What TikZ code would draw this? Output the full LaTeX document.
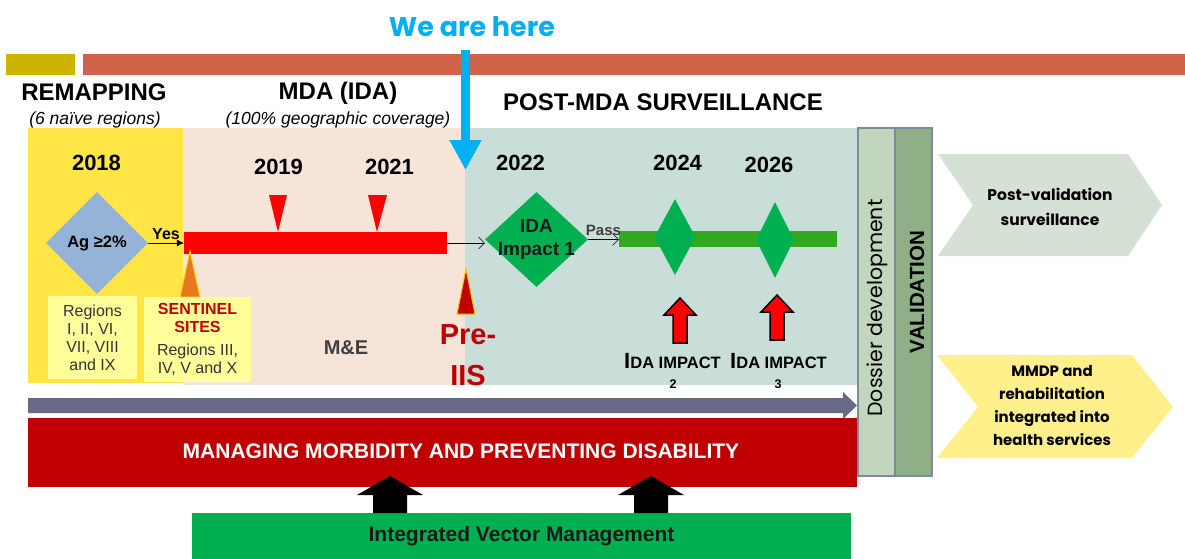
\documentclass[tikz,border=0pt]{standalone}
\usepackage{fontspec}
\setmainfont{Liberation Sans}
\newfontfamily\gothic{Poppins}
\usepackage{tikz}
\usetikzlibrary{arrows.meta}
\usetikzlibrary{shapes.geometric}
\definecolor{mgold}{RGB}{205, 180, 0}
\definecolor{mbrick}{RGB}{208, 98, 74}
\definecolor{msky}{RGB}{0, 176, 240}
\definecolor{myellow}{RGB}{255, 230, 70}
\definecolor{mpale}{RGB}{255, 255, 153}
\definecolor{mpeach}{RGB}{247, 228, 217}
\definecolor{msage}{RGB}{201, 221, 217}
\definecolor{mblue}{RGB}{149, 179, 215}
\definecolor{mgreen}{RGB}{0, 176, 80}
\definecolor{mlime}{RGB}{50, 170, 30}
\definecolor{mslate}{RGB}{102, 106, 135}
\definecolor{mred}{RGB}{192, 0, 0}
\definecolor{mdossier}{RGB}{194, 213, 189}
\definecolor{mvalid}{RGB}{143, 175, 135}
\definecolor{mframe}{RGB}{130, 135, 160}
\definecolor{mmint}{RGB}{213, 225, 213}
\definecolor{mcream}{RGB}{255, 240, 140}
\definecolor{morange}{RGB}{232, 119, 34}
\definecolor{mamber}{RGB}{255, 192, 0}
\tikzset{head/.style = {font = \fontsize{24}{28}\selectfont\bfseries}}
\tikzset{sub/.style = {font = \fontsize{17.5}{20}\selectfont\itshape}}
\tikzset{year/.style = {font = \fontsize{22}{24}\selectfont\bfseries}}
\tikzset{regbox/.style = {fill = mpale, align = center, text = black!80, inner sep = 0,
                          font = \fontsize{16}{18}\selectfont}}
\tikzset{gem/.style = {diamond, inner sep = 0, fill = #1}}
\tikzset{bar/.style = {inner sep = 0, fill = #1}}
\tikzset{chev/.style = {align = center, font = \gothic\fontsize{15.5}{25}\selectfont\bfseries}}
\tikzset{capsl/.style = {anchor = base, font = \bfseries}}
\tikzset{redup/.pic = {\filldraw [fill = red, draw = black, line width = 1.5]
                         (-7, 0) -- (-7, -28) -- (-16, -28) -- (0, -45) -- (16, -28) -- (7, -28) -- (7, 0) -- cycle;}}
\tikzset{blackup/.pic = {\fill [black]
                           (-17, 0) -- (-17, -18) -- (-33, -18) -- (0, -37) -- (33, -18) -- (17, -18) -- (17, 0) -- cycle;}}

\begin{document}
\begin{tikzpicture}[x = 1pt, y = -1pt]
    \useasboundingbox (0, 0) rectangle (1185, 559);

    \fill [mgold] (6, 54) rectangle (75, 75);
    \fill [mbrick] (83, 54) rectangle (1185, 75);

    \fill [myellow] (28, 128) rectangle (183, 383);
    \fill [mpeach] (183, 128) rectangle (465, 385);
    \fill [msage] (465, 128) rectangle (857, 385);

    \node [font = \gothic\fontsize{27}{30}\selectfont\bfseries, text = msky] (here) at (472, 27) {We are here};
    \coordinate (herefrom) at (465.5, 50);
    \coordinate (hereto) at (465.5, 170);
    \draw [msky, line width = 9, -{Triangle[length = 30pt, width = 30pt]}] (herefrom) -- (hereto);

    \node [head] (remap) at (94, 92) {REMAPPING};
    \node [sub] (remapsub) at (95, 120) {(6 naïve regions)};
    \node [head] (mda) at (338, 93) {MDA (IDA)};
    \node [sub] (mdasub) at (338, 120) {(100\% geographic coverage)};
    \node [head] (post) at (663, 102) {POST-MDA SURVEILLANCE};

    \node [year] (y18) at (96.5, 163) {2018};
    \node [year] (y19) at (278.5, 167) {2019};
    \node [year] (y21) at (389.5, 167) {2021};
    \node [year] (y22) at (520.5, 163) {2022};
    \node [year] (y24) at (677.5, 163) {2024};
    \node [year] (y26) at (769, 165) {2026};

    \node [gem = mblue, minimum width = 102, minimum height = 102] (ag) at (97, 243) {};
    \node [font = \fontsize{16.5}{18}\selectfont\bfseries] (agtext) at (ag) {Ag ≥2\%};
    \node [bar = red, minimum width = 263, minimum height = 22] (redbar) at (315.5, 243) {};
    \draw [-{Latex[length = 7pt, width = 7pt]}] (ag.east) -- (redbar.west)
        node [midway, above, font = \fontsize{16}{18}\selectfont\bfseries] (yes) {Yes};

    \fill [red] (269, 195) -- (287, 195) -- (278, 232) -- cycle;
    \fill [red] (368, 195) -- (387, 195) -- (377, 232) -- cycle;
    \filldraw [fill = morange, draw = mamber!50!yellow, line width = 1] (180, 297) -- (200, 297) -- (190, 251) -- cycle;
    \filldraw [fill = mred, draw = mamber, line width = 1] (457, 314) -- (475, 314) -- (466, 269) -- cycle;

    \node [regbox, minimum width = 89, minimum height = 83] (regions) at (92.5, 337.5)
        {Regions\\I, II, VI,\\VII, VIII\\and IX};
    \node [regbox, minimum width = 107, minimum height = 85] (sentinel) at (197.5, 339.5)
        {{\color{mred}\bfseries SENTINEL}\\{\color{mred}\bfseries SITES}\\[5pt]Regions III,\\IV, V and X};

    \node [font = \fontsize{20}{22}\selectfont\bfseries, text = black!75] (me) at (346, 348) {M\&E};
    \node [align = center, text = mred, font = \fontsize{29}{41}\selectfont\bfseries] (preiis) at (468, 355) {Pre-\\IIS};

    \node [gem = mgreen, minimum width = 103, minimum height = 95] (ida) at (536.5, 239.5) {};
    \node [align = center, font = \fontsize{19}{23}\selectfont\bfseries, text = black!90] (idatext) at (ida) {IDA\\Impact 1};
    \draw [-{Straight Barb[length = 6pt, width = 12pt]}] (redbar.east) -- (redbar.east -| ida.west);

    \node [bar = mlime, minimum width = 218, minimum height = 16] (greenbar) at (728, 239) {};
    \draw [-{Straight Barb[length = 6pt, width = 12pt]}] (ida.east) -- (ida.east -| greenbar.west)
        node [midway, above, font = \fontsize{15}{17}\selectfont\bfseries, text = black!75] (pass) {Pass};
    \node [gem = mgreen, minimum width = 41, minimum height = 76] (imp2) at (675, 237) {};
    \node [gem = mgreen, minimum width = 38, minimum height = 76] (imp3) at (775, 240) {};

    \pic at (680, 343) {redup};
    \pic at (777, 340) {redup};
    \node [capsl] (imp2a) at (672.5, 368) {\fontsize{22}{24}\selectfont I\fontsize{16.5}{18}\selectfont DA IMPACT};
    \node [capsl, font = \fontsize{12.5}{14}\selectfont\bfseries] (imp2b) at (673, 388) {2};
    \node [capsl] (imp3a) at (778.5, 368) {\fontsize{22}{24}\selectfont I\fontsize{16.5}{18}\selectfont DA IMPACT};
    \node [capsl, font = \fontsize{12.5}{14}\selectfont\bfseries] (imp3b) at (778, 388) {3};

    \fill [mslate] (28, 398) -- (843, 398) -- (843, 392) -- (857, 405.5) -- (843, 419) -- (843, 413) -- (28, 413) -- cycle;

    \node [bar = mred, minimum width = 829, minimum height = 69] (mmpd) at (442.5, 452.5) {};
    \node [text = white, font = \fontsize{21}{24}\selectfont\bfseries] (mmpdtext) at (461, 451)
        {MANAGING MORBIDITY AND PREVENTING DISABILITY};

    \node [bar = mgreen, minimum width = 659, minimum height = 46, font = \fontsize{21}{24}\selectfont\bfseries,
           text = black!90] (ivm) at (521.5, 536) {Integrated Vector Management};
    \pic at (390, 513) {blackup};
    \pic at (651, 513) {blackup};

    \node [draw = mframe, line width = 1.5, fill = mdossier, minimum width = 37, minimum height = 348, inner sep = 0]
        (dossier) at (876.5, 302) {};
    \node [draw = mframe, line width = 1.5, fill = mvalid, minimum width = 37, minimum height = 348, inner sep = 0]
        (valid) at (913.5, 302) {};
    \node [rotate = 90, font = \gothic\fontsize{20.5}{22}\selectfont] (dossiertext) at (877, 308) {Dossier development};
    \node [rotate = 90, font = \fontsize{20.5}{22}\selectfont\bfseries] (validtext) at (917, 292) {VALIDATION};

    \fill [mmint] (938, 154) -- (1128, 154) -- (1162, 205) -- (1128, 256) -- (938, 256) -- (973, 205) -- cycle;
    \node [chev] (postval) at (1050, 207) {Post-validation\\surveillance};
    \fill [mcream] (937, 355) -- (1132, 355) -- (1173, 407) -- (1132, 458) -- (937, 458) -- (978, 407) -- cycle;
    \node [chev, font = \gothic\fontsize{15}{23}\selectfont\bfseries] (mmdp) at (1052, 406)
        {MMDP and\\rehabilitation\\integrated into\\health services};
\end{tikzpicture}
\end{document}
